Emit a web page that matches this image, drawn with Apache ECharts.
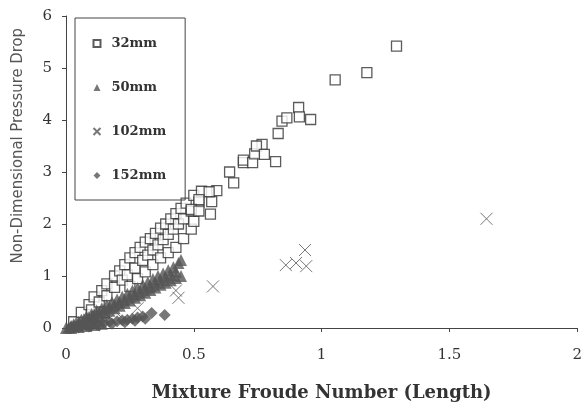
<!DOCTYPE html>
<html>
<head>
<meta charset="utf-8">
<script src="https://cdn.jsdelivr.net/npm/echarts@6/dist/echarts.min.js"></script>
<style>
  html, body { margin: 0; padding: 0; background: #fff; }
  #main { width: 585px; height: 410px; }
</style>
</head>
<body>
<div id="main"></div>
<script>
// pipe sizes
const sizes = ['32mm', '50mm', '102mm', '152mm'];

// 32mm
const x32 = [0.03, 0.06, 0.09, 0.11, 0.14, 0.16, 0.19, 0.21, 0.23, 0.25, 0.27, 0.29, 0.31, 0.33, 0.35, 0.37, 0.39, 0.41, 0.43, 0.45, 0.47, 0.50, 0.53,
  0.10, 0.13, 0.16, 0.19, 0.22, 0.24, 0.27, 0.30, 0.32, 0.34, 0.36, 0.38, 0.40, 0.42, 0.44, 0.46, 0.49, 0.52,
  0.12, 0.15, 0.25, 0.28, 0.31, 0.34, 0.37, 0.40, 0.43, 0.46, 0.49, 0.50,
  0.57, 0.59, 0.56, 0.52, 0.49, 0.52, 0.565,
  0.64, 0.656, 0.694, 0.694, 0.73, 0.738, 0.767, 0.745, 0.776, 0.82, 0.83, 0.845, 0.864, 0.91, 0.913, 0.957, 1.053, 1.177, 1.293];
const y32 = [0.12, 0.30, 0.45, 0.60, 0.72, 0.85, 1.00, 1.10, 1.22, 1.35, 1.45, 1.55, 1.65, 1.72, 1.82, 1.92, 2.00, 2.10, 2.20, 2.30, 2.40, 2.55, 2.63,
  0.35, 0.50, 0.62, 0.78, 0.92, 1.02, 1.15, 1.30, 1.40, 1.50, 1.60, 1.70, 1.80, 1.90, 2.00, 2.10, 2.25, 2.42,
  0.22, 0.30, 0.80, 0.95, 1.08, 1.22, 1.35, 1.45, 1.55, 1.72, 1.90, 2.05,
  2.43, 2.64, 2.62, 2.47, 2.28, 2.25, 2.19,
  3.00, 2.79, 3.18, 3.23, 3.18, 3.35, 3.53, 3.50, 3.34, 3.20, 3.74, 3.98, 4.04, 4.24, 4.06, 4.01, 4.77, 4.91, 5.42];

// 50mm
const x50 = [0.02, 0.04, 0.06, 0.08, 0.10, 0.12, 0.14, 0.16, 0.18, 0.20, 0.22, 0.24, 0.26, 0.28, 0.30, 0.32, 0.34, 0.36, 0.38, 0.40, 0.42, 0.44, 0.45,
  0.01, 0.03, 0.05, 0.07, 0.09, 0.11, 0.13, 0.15, 0.17, 0.19, 0.21, 0.23, 0.25, 0.27, 0.29, 0.31, 0.33, 0.35, 0.37, 0.39, 0.41, 0.43, 0.45,
  0.03, 0.05, 0.07, 0.09, 0.11, 0.13, 0.15, 0.17, 0.19, 0.21, 0.23, 0.25, 0.27, 0.29, 0.31, 0.33, 0.35, 0.37, 0.39, 0.41, 0.43,
  0.00, 0.02, 0.05, 0.08, 0.11, 0.14];
const y50 = [0.04, 0.10, 0.16, 0.22, 0.27, 0.33, 0.38, 0.44, 0.50, 0.55, 0.60, 0.66, 0.72, 0.77, 0.83, 0.88, 0.94, 1.00, 1.05, 1.11, 1.17, 1.25, 1.31,
  0.01, 0.04, 0.07, 0.11, 0.15, 0.19, 0.24, 0.29, 0.33, 0.38, 0.43, 0.48, 0.53, 0.58, 0.63, 0.68, 0.73, 0.78, 0.83, 0.87, 0.92, 0.96, 1.00,
  0.07, 0.12, 0.17, 0.21, 0.26, 0.31, 0.36, 0.41, 0.45, 0.50, 0.55, 0.60, 0.65, 0.70, 0.76, 0.81, 0.87, 0.92, 0.97, 1.02, 1.08,
  0.00, 0.00, 0.02, 0.04, 0.06, 0.08];

// 102mm
const x102 = [0.094, 0.14, 0.195, 0.28, 0.43, 0.44, 0.575, 0.86, 0.90, 0.935, 0.94, 1.645];
const y102 = [0.15, 0.20, 0.31, 0.38, 0.72, 0.58, 0.80, 1.21, 1.25, 1.50, 1.19, 2.10];

// 152mm
const x152 = [0.02, 0.04, 0.06, 0.08, 0.10, 0.12, 0.15, 0.17, 0.20, 0.22, 0.24, 0.26, 0.28, 0.30, 0.335, 0.386,
  0.05, 0.09, 0.13, 0.18, 0.23, 0.27, 0.31];
const y152 = [0.02, 0.03, 0.04, 0.05, 0.06, 0.08, 0.10, 0.12, 0.13, 0.15, 0.16, 0.18, 0.20, 0.22, 0.29, 0.25,
  0.01, 0.03, 0.05, 0.08, 0.11, 0.14, 0.18];

const xTicks = [0, 0.5, 1, 1.5, 2];
const yTicks = [0, 1, 2, 3, 4, 5, 6];

function pairs(xs, ys) {
  return xs.map((x, i) => [x, ys[i]]);
}

const serif = 'DejaVu Serif';
const cross = 'path://M0,0L10,10M10,0L0,10';

let myChart = echarts.init(document.getElementById('main'), null, { renderer: 'canvas' });
myChart.setOption({
  animation: false,
  backgroundColor: '#fff',
  grid: { left: 66, right: 6, top: 16, bottom: 82 },
  legend: {
    orient: 'vertical',
    left: 75,
    top: 18,
    padding: [19, 19, 18, 16],
    itemGap: 31,
    itemWidth: 7,
    itemHeight: 7,
    borderColor: '#444',
    borderWidth: 1,
    borderRadius: 0,
    data: sizes,
    textStyle: { fontFamily: serif, fontSize: 13, fontWeight: 'bold', color: '#333', padding: [0, 0, 0, 6] }
  },
  xAxis: {
    type: 'value',
    min: 0, max: 2, interval: 0.5,
    name: 'Mixture Froude Number (Length)',
    nameLocation: 'middle',
    nameGap: 56,
    nameTextStyle: { fontFamily: serif, fontSize: 18, fontWeight: 'bold', color: '#333' },
    axisLine: { lineStyle: { color: '#444', width: 1 } },
    axisTick: { show: true, length: 4, lineStyle: { color: '#444' } },
    axisLabel: {
      fontFamily: serif, fontSize: 15, color: '#333', margin: 20,
      formatter: v => xTicks.includes(v) ? String(v) : ''
    },
    splitLine: { show: false }
  },
  yAxis: {
    type: 'value',
    min: 0, max: 6, interval: 1,
    axisLine: { show: true, lineStyle: { color: '#444', width: 1 } },
    axisTick: { show: true, length: 4, lineStyle: { color: '#444' } },
    axisLabel: {
      fontFamily: serif, fontSize: 15, color: '#333', margin: 14,
      formatter: v => yTicks.includes(v) ? String(v) : ''
    },
    splitLine: { show: false }
  },
  graphic: [{
    type: 'text',
    left: 9,
    top: 28,
    rotation: Math.PI / 2,
    style: {
      text: 'Non-Dimensional Pressure Drop',
      font: '16.5px "Liberation Sans Narrow", "DejaVu Sans Condensed", sans-serif',
      fill: '#555'
    }
  }],
  series: [
    {
      name: sizes[0], type: 'scatter', symbol: 'rect', symbolSize: 10,
      itemStyle: { color: '#fff', borderColor: '#333', borderWidth: 1.3 },
      data: pairs(x32, y32), z: 2
    },
    {
      name: sizes[1], type: 'scatter', symbol: 'triangle', symbolSize: 12,
      itemStyle: { color: '#555' },
      data: pairs(x50, y50), z: 3
    },
    {
      name: sizes[2], type: 'scatter', symbol: cross, symbolSize: 12,
      itemStyle: { color: 'none', borderColor: '#555', borderWidth: 1 },
      data: pairs(x102, y102), z: 4
    },
    {
      name: sizes[3], type: 'scatter', symbol: 'diamond', symbolSize: 12,
      itemStyle: { color: '#555' },
      data: pairs(x152, y152), z: 5
    }
  ]
});
</script>
</body>
</html>
